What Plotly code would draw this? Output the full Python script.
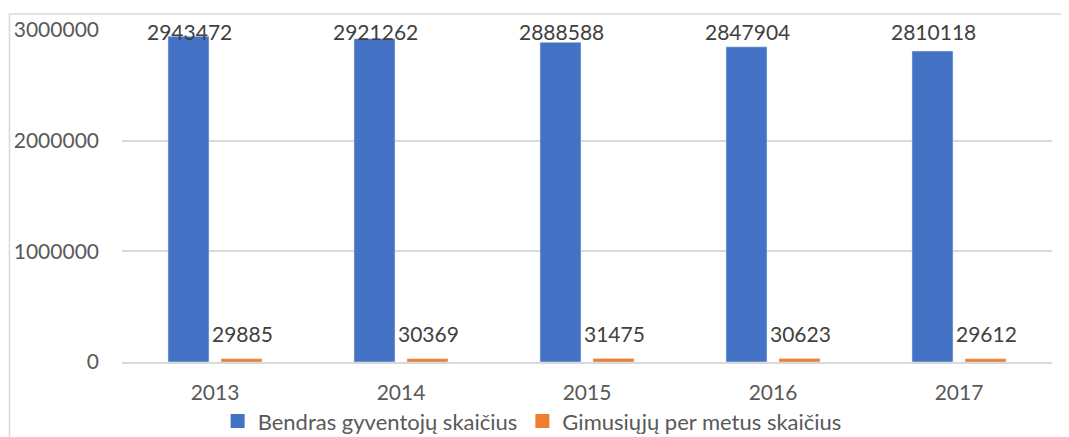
import plotly.graph_objects as go

years = ["2013", "2014", "2015", "2016", "2017"]
total_pop = [2943472, 2921262, 2888588, 2847904, 2810118]
births = [29885, 30369, 31475, 30623, 29612]

BLUE = "#4472C4"
ORANGE = "#ED7D31"
GRID = "#D9D9D9"
LABEL = "#404040"
TICK = "#595959"
FONT = "Lato, Calibri, sans-serif"

fig = go.Figure()

fig.add_trace(go.Bar(
    x=years, y=total_pop,
    name="Bendras gyventojų skaičius",
    marker=dict(color=BLUE),
    legendgroup="a", showlegend=False,
))
fig.add_trace(go.Bar(
    x=years, y=births,
    name="Gimusiųjų per metus skaičius",
    marker=dict(color=ORANGE),
    legendgroup="b", showlegend=False,
))

# legend entries with bigger square swatches
for name, col, grp in [("Bendras gyventojų skaičius", BLUE, "a"),
                       ("Gimusiųjų per metus skaičius", ORANGE, "b")]:
    fig.add_trace(go.Scatter(
        x=[None], y=[None], mode="markers", name=name, legendgroup=grp,
        marker=dict(symbol="square", size=14, color=col),
    ))

# value labels; Excel pins the tall-bar labels to the top of the plot area,
# so they all sit at the height of the tallest bar
top = max(total_pop)
for i, v in enumerate(total_pop):
    fig.add_annotation(
        x=i, y=top, xref="x", yref="y", xshift=-26, yshift=-10,
        yanchor="bottom", text=str(v), showarrow=False,
        font=dict(size=21, color=LABEL, family=FONT),
    )
for i, v in enumerate(births):
    fig.add_annotation(
        x=i, y=v, xref="x", yref="y", xshift=27, yshift=11,
        yanchor="bottom", text=str(v), showarrow=False,
        font=dict(size=21, color=LABEL, family=FONT),
    )

# outer chart border (partly cut off)
fig.add_shape(
    type="rect", xref="paper", yref="paper",
    x0=-0.121, x1=1.2, y0=-0.5, y1=1.048,
    line=dict(color=GRID, width=1.5), layer="below",
)

fig.update_layout(
    width=1061, height=429,
    paper_bgcolor="white", plot_bgcolor="white",
    font=dict(family=FONT, color=TICK, size=20),
    barmode="group", bargap=0.43, bargroupgap=0.226,
    margin=dict(l=114, r=17, t=22, b=75, autoexpand=False),
    showlegend=True,
    legend=dict(
        orientation="h", x=0.494, xanchor="center",
        xref="container", yref="container", y=0.037, yanchor="middle",
        font=dict(size=22, color=TICK, family=FONT),
        bgcolor="rgba(0,0,0,0)",
        itemwidth=30, tracegroupgap=0,
    ),
    xaxis=dict(
        type="category", range=[-0.5, 4.5], automargin=False,
        showgrid=False, showline=True, linecolor=GRID, linewidth=1.5,
        tickfont=dict(size=21, color=TICK), ticklabelstandoff=11,
    ),
    yaxis=dict(
        automargin=False,
        range=[0, 3000000], dtick=1000000, tickformat="d",
        gridcolor=GRID, gridwidth=1.5, zeroline=False,
        tickfont=dict(size=21, color=TICK), ticklabelstandoff=22,
    ),
)

fig.write_html("out.html")
